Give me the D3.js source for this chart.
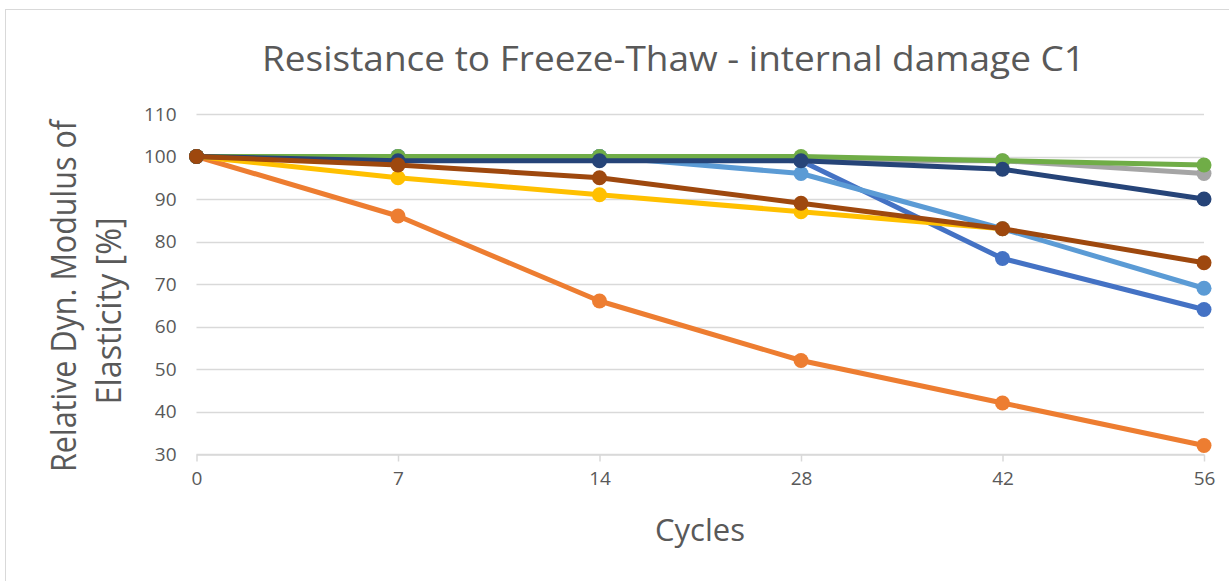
<!DOCTYPE html>
<html>
<head>
<meta charset="utf-8">
<script src="https://cdn.jsdelivr.net/npm/d3@7/dist/d3.min.js"></script>
<style>
  html, body { margin: 0; padding: 0; background: #fff; }
  svg { display: block; }
</style>
</head>
<body>
<svg id="chart" width="1229" height="581"></svg>
<script>
// Freeze-thaw cycles (category axis)
const cycles = ["0", "7", "14", "28", "42", "56"];
const yTicks = [30, 40, 50, 60, 70, 80, 90, 100, 110];

// Relative dynamic modulus of elasticity [%] per mix
const seriesBlue      = [100, 100, 100, 99, 76, 64];
const seriesOrange    = [100, 86, 66, 52, 42, 32];
const seriesGray      = [100, 100, 100, 99, 99, 96];
const seriesGold      = [100, 95, 91, 87, 83, null];
const seriesLightBlue = [100, 100, 100, 96, 83, 69];
const seriesGreen     = [100, 100, 100, 100, 99, 98];
const seriesDarkBlue  = [100, 99, 99, 99, 97, 90];
const seriesBrown     = [100, 98, 95, 89, 83, 75];

const seriesColors = ["#4472C4", "#ED7D31", "#A5A5A5", "#FFC000", "#5B9BD5", "#70AD47", "#264478", "#9E480E"];
const allSeries = [seriesBlue, seriesOrange, seriesGray, seriesGold, seriesLightBlue, seriesGreen, seriesDarkBlue, seriesBrown];

const svg = d3.select("#chart");
const textColor = "#595959";
const gridColor = "#D9D9D9";

// outer chart frame
svg.append("rect")
  .attr("x", 5.5).attr("y", 9.5)
  .attr("width", 1240).attr("height", 600)
  .attr("fill", "none").attr("stroke", gridColor).attr("stroke-width", 1);

const x = d3.scalePoint().domain(cycles).range([196.5, 1204]);
const y = d3.scaleLinear().domain([30, 110]).range([454, 114]);

// horizontal gridlines
svg.append("g")
  .selectAll("line")
  .data(yTicks)
  .join("line")
  .attr("x1", 196.5).attr("x2", 1204)
  .attr("y1", d => Math.round(y(d)) + 0.5).attr("y2", d => Math.round(y(d)) + 0.5)
  .attr("stroke", gridColor).attr("stroke-width", 1.5);

// y axis labels
const yAxis = d3.axisLeft(y).tickValues(yTicks).tickSize(0).tickPadding(20);
const gy = svg.append("g").attr("transform", "translate(196.5,0)").call(yAxis);
gy.select(".domain").remove();
gy.selectAll("text")
  .attr("fill", textColor)
  .style("font-family", "'Open Sans', sans-serif")
  .style("font-size", "19px");

// x axis with small outward ticks
const xAxis = d3.axisBottom(x).tickSize(7).tickSizeOuter(0).tickPadding(10);
const gx = svg.append("g").attr("transform", `translate(0,${Math.round(y(30)) + 0.5})`).call(xAxis);
gx.select(".domain").attr("stroke", gridColor).attr("stroke-width", 1.5);
gx.selectAll(".tick line").attr("stroke", gridColor).attr("stroke-width", 1.5);
gx.selectAll("text")
  .attr("fill", textColor)
  .style("font-family", "'Open Sans', sans-serif")
  .style("font-size", "19px");

// series lines and markers
const line = d3.line()
  .defined(d => d.v != null)
  .x(d => x(d.c))
  .y(d => y(d.v));

allSeries.forEach((vals, i) => {
  const pts = vals.map((v, j) => ({ c: cycles[j], v }));
  const g = svg.append("g");
  g.append("path")
    .datum(pts)
    .attr("d", line)
    .attr("fill", "none")
    .attr("stroke", seriesColors[i])
    .attr("stroke-width", 5)
    .attr("stroke-linejoin", "round")
    .attr("stroke-linecap", "round");
  g.selectAll("circle")
    .data(pts.filter(d => d.v != null))
    .join("circle")
    .attr("cx", d => x(d.c))
    .attr("cy", d => y(d.v))
    .attr("r", 7.5)
    .attr("fill", seriesColors[i]);
});

// chart title
svg.append("text")
  .attr("x", 262).attr("y", 71)
  .attr("textLength", 823).attr("lengthAdjust", "spacingAndGlyphs")
  .attr("fill", textColor)
  .style("font-family", "'Open Sans', sans-serif")
  .style("font-size", "35px")
  .text("Resistance to Freeze-Thaw - internal damage C1");

// x axis title
svg.append("text")
  .attr("x", 700).attr("y", 541)
  .attr("text-anchor", "middle")
  .attr("fill", textColor)
  .style("font-family", "'Open Sans', sans-serif")
  .style("font-size", "31px")
  .text("Cycles");

// y axis title (two lines)
const yTitle = svg.append("g").attr("transform", "rotate(-90)");
yTitle.append("text")
  .attr("x", -296 - 176).attr("y", 76)
  .attr("textLength", 352).attr("lengthAdjust", "spacingAndGlyphs")
  .attr("fill", textColor)
  .style("font-family", "'Open Sans', sans-serif")
  .style("font-size", "34px")
  .text("Relative Dyn. Modulus of");
yTitle.append("text")
  .attr("x", -311 - 93.5).attr("y", 121)
  .attr("textLength", 187).attr("lengthAdjust", "spacingAndGlyphs")
  .attr("fill", textColor)
  .style("font-family", "'Open Sans', sans-serif")
  .style("font-size", "34px")
  .text("Elasticity [%]");
</script>
</body>
</html>
